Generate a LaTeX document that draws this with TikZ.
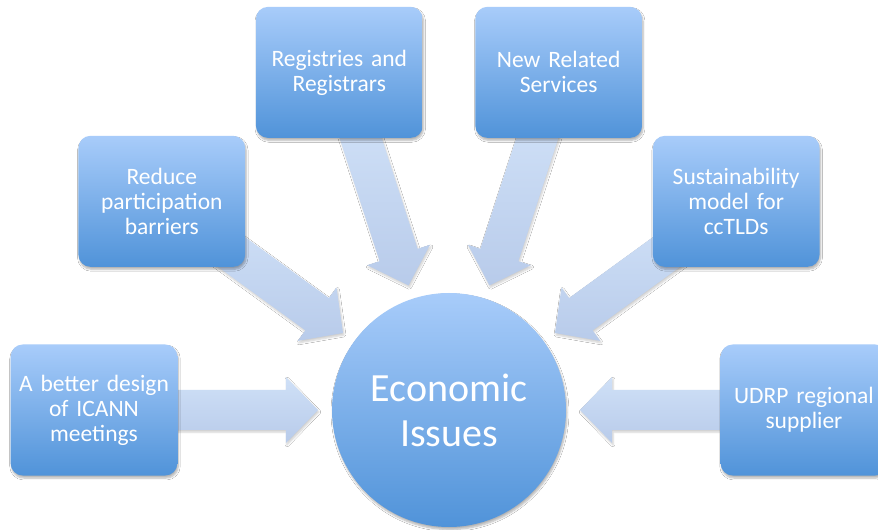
\documentclass[tikz,border=0pt]{standalone}
\usepackage{fontspec}
\setmainfont{Carlito}
\usetikzlibrary{calc, backgrounds, shadows.blur}
\definecolor{boxtop}{RGB}{168,204,250}
\definecolor{boxbot}{RGB}{80,147,217}
\definecolor{arrtop}{RGB}{207,224,247}
\definecolor{arrbot}{RGB}{184,203,234}
\tikzset{
    idea/.style={rectangle, rounded corners=12pt, minimum width=164pt, minimum height=131pt, text width=160pt, align=center, top color=boxtop, bottom color=boxbot, text=white, font=\fontsize{23.5}{25}\selectfont, blur shadow={shadow xshift=1pt, shadow yshift=-2.5pt, shadow blur steps=6, shadow opacity=30}},
    hub/.style={circle, minimum size=234pt, inner sep=0pt, align=center, top color=boxtop, bottom color=boxbot, text=white, font=\fontsize{40}{45}\selectfont, blur shadow={shadow xshift=1pt, shadow yshift=-2.5pt, shadow blur steps=6, shadow opacity=30}},
    bigarrow/.style={top color=arrtop, bottom color=arrbot, blur shadow={shadow xshift=1pt, shadow yshift=-2pt, shadow blur steps=5, shadow opacity=20}},
}

\begin{document}
\begin{tikzpicture}

\useasboundingbox (-449pt,-120pt) rectangle (429pt,410pt);

% hub and the six issues around it
\node[hub] (econ) at (0,0) {Economic\\Issues};
\node[idea] (better) at (180:355pt) {A better design\\of ICANN\\meetings};
\node[idea] (reduce) at (144:355pt) {Reduce\\participation\\barriers};
\node[idea] (regs) at (108:355pt) {Registries and\\Registrars};
\node[idea] (newsvc) at (72:355pt) {New Related\\Services};
\node[idea] (cctld) at (36:355pt) {Sustainability\\model for\\ccTLDs};
\node[idea] (udrp) at (0:355pt) {UDRP regional\\supplier};

% block arrows, behind the boxes
\begin{scope}[on background layer]
\fill[white] (-449pt,-120pt) rectangle (429pt,410pt);
\foreach \nd in {better,reduce,regs,newsvc,cctld,udrp} {
    \coordinate (tip) at ($(econ.center)!131pt!(\nd.center)$);
    \coordinate (hb) at ($(econ.center)!163pt!(\nd.center)$);
    \coordinate (tl) at ($(econ.center)!300pt!(\nd.center)$);
    \path[bigarrow] (tip) -- ($(hb)!33pt!90:(econ.center)$) -- ($(hb)!20pt!90:(econ.center)$)
        -- ($(tl)!20pt!90:(econ.center)$) -- ($(tl)!20pt!-90:(econ.center)$)
        -- ($(hb)!20pt!-90:(econ.center)$) -- ($(hb)!33pt!-90:(econ.center)$) -- cycle;
}
\end{scope}

\end{tikzpicture}
\end{document}
